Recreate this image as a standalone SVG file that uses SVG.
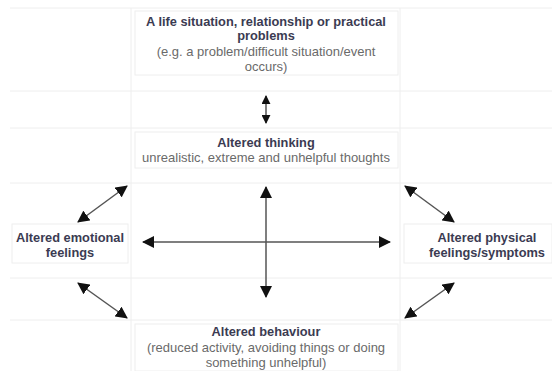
<svg xmlns="http://www.w3.org/2000/svg" width="552" height="371" viewBox="0 0 552 371">
<defs>
<marker id="ah" viewBox="0 0 12 12" refX="11" refY="6" markerWidth="12" markerHeight="12" markerUnits="userSpaceOnUse" orient="auto-start-reverse">
<path d="M0,0 L12,6 L0,12 Z" fill="#111"/>
</marker>
<marker id="ahs" viewBox="0 0 10 10" refX="9" refY="5" markerWidth="9" markerHeight="9" markerUnits="userSpaceOnUse" orient="auto-start-reverse">
<path d="M0,0 L10,5 L0,10 Z" fill="#111"/>
</marker>
<style>
.grid{stroke:#eeeeee;stroke-width:1;fill:none}
.box{fill:#ffffff;stroke:#eeeeee;stroke-width:1}
.t{font-family:"Liberation Sans",Arial,sans-serif;text-anchor:middle}
.b{font-weight:bold;fill:#3b3b52;font-size:12.8px}
.s{fill:#6a6a6a;font-size:13px}
.c{stroke:#555;stroke-width:1.5;fill:none;marker-start:url(#ah);marker-end:url(#ah)}
.cs{stroke:#555;stroke-width:1.5;fill:none;marker-start:url(#ahs);marker-end:url(#ahs)}
</style>
</defs>
<rect width="552" height="371" fill="#ffffff"/>
<g id="grid">
<line class="grid" x1="10" y1="8" x2="552" y2="8"/>
<line class="grid" x1="10" y1="91" x2="552" y2="91"/>
<line class="grid" x1="10" y1="128" x2="552" y2="128"/>
<line class="grid" x1="10" y1="183" x2="552" y2="183"/>
<line class="grid" x1="10" y1="278" x2="552" y2="278"/>
<line class="grid" x1="10" y1="320" x2="552" y2="320"/>
<line class="grid" x1="131" y1="8" x2="131" y2="371"/>
<line class="grid" x1="400" y1="8" x2="400" y2="371"/>
</g>
<g id="node-situation">
<rect class="box" x="135" y="11" width="263" height="64"/>
<text class="t b" x="266" y="26">A life situation, relationship or practical</text>
<text class="t b" x="266" y="40">problems</text>
<text class="t s" x="266" y="56">(e.g. a problem/difficult situation/event</text>
<text class="t s" x="266" y="71">occurs)</text>
</g>
<g id="node-thinking">
<rect class="box" x="135" y="132" width="263" height="36"/>
<text class="t b" x="266" y="147">Altered thinking</text>
<text class="t s" x="266" y="162">unrealistic, extreme and unhelpful thoughts</text>
</g>
<g id="node-emotional">
<rect class="box" x="12" y="224" width="116" height="39"/>
<text class="t b" x="70" y="242">Altered emotional</text>
<text class="t b" x="70" y="257">feelings</text>
</g>
<g id="node-physical">
<rect class="box" x="404" y="224" width="148" height="39"/>
<text class="t b" x="487" y="242">Altered physical</text>
<text class="t b" x="487" y="257">feelings/symptoms</text>
</g>
<g id="node-behaviour">
<rect class="box" x="135" y="324" width="263" height="47"/>
<text class="t b" x="266" y="336">Altered behaviour</text>
<text class="t s" x="266" y="352">(reduced activity, avoiding things or doing</text>
<text class="t s" x="266" y="367">something unhelpful)</text>
</g>
<g id="connectors">
<line class="cs" x1="266" y1="96" x2="266" y2="123"/>
<line class="c" x1="266" y1="187" x2="266" y2="297"/>
<line class="c" x1="143" y1="242" x2="390" y2="242"/>
<line class="c" x1="127" y1="186" x2="78" y2="222"/>
<line class="c" x1="405" y1="186" x2="454" y2="222"/>
<line class="c" x1="78" y1="283" x2="127" y2="318"/>
<line class="c" x1="454" y1="283" x2="405" y2="318"/>
</g>
</svg>
